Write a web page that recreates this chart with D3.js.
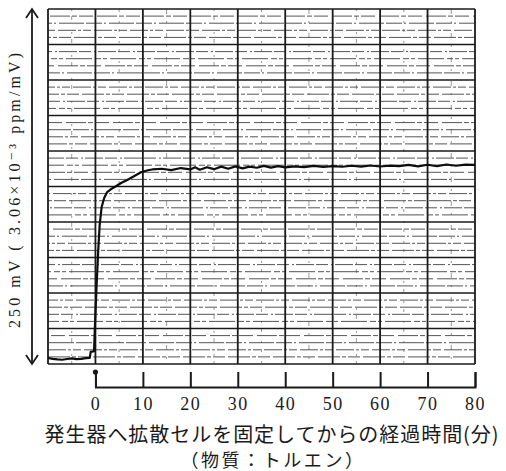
<!DOCTYPE html>
<html>
<head>
<meta charset="utf-8">
<script src="https://cdn.jsdelivr.net/npm/d3@7"></script>
<style>
  html, body { margin: 0; padding: 0; background: #fff; }
  svg { display: block; }
</style>
</head>
<body>
<svg id="chart" width="506" height="471"></svg>
<script>
// Recorder trace: elapsed time (min) after fixing the diffusion cell to the generator
const timeMin = [
  -10, -9, -8, -7, -6, -5, -4, -3, -2, -1.2, -1.0, -0.3,
  -0.06, 0.25, 0.57, 0.89, 1.31, 1.84, 2.47, 3.3, 4.4, 5.4, 6.7, 8.2, 9.7, 11.3,
  12, 14, 16, 18, 20, 21, 22, 23.5, 25, 26.5, 28, 29.5, 31, 32.5, 34, 35.5, 37, 38.5,
  40, 42, 44, 46, 48, 50, 52, 54, 56, 58, 60, 62, 64, 66, 68, 70, 72, 74, 76, 78, 80
];
// Detector output (mV), full scale 250 mV
const signalMV = [
  4.2, 3.6, 3.2, 3.0, 3.5, 3.9, 3.4, 3.6, 4.1, 4.3, 8.5, 9.0,
  31, 55.6, 78.9, 97.9, 110.6, 116.9, 121.1, 123.2, 125.4, 127.5, 129.6, 132.4, 135.2, 136.6,
  137, 137.5, 136.5, 138, 137, 138.5, 136.8, 138.6, 137.2, 139, 137.5, 139.2, 137.8, 139, 138.2, 139.5, 138.3, 139.4,
  138.5, 139.2, 138.6, 139.5, 138.8, 139.4, 138.9, 139.6, 139, 139.8, 139.1, 139.7, 139.3, 140.2, 139.2, 140.3, 139.4, 140.5, 139.6, 140.4, 140.2
];
const xTicks = [0, 10, 20, 30, 40, 50, 60, 70, 80];
const yLabel = "250 mV ( 3.06×10⁻³ ppm/mV)";
const titleLine1 = "発生器へ拡散セルを固定してからの経過時間(分)";
const titleLine2 = "（物質：トルエン）";

const svg = d3.select("#chart");
const ink = "#1a1a1a";

// Chart paper spans -10..80 min and 0..250 mV
const x = d3.scaleLinear().domain([-10, 80]).range([48, 475]);
const y = d3.scaleLinear().domain([0, 250]).range([364, 9]);

const grid = svg.append("g");

// Minor horizontal rulings every 5 mV (broken, like recorder paper)
const dashes = ["22,2,4,2,12,3", "8,3,18,2,3,2", "16,2,2,3,25,2", "5,2,14,4,20,2", "26,3,6,2,4,3", "12,3,2,2,18,2"];
const minorY = d3.range(5, 250, 5).filter(v => v % 25 !== 0);
grid.selectAll("line.minor-y").data(minorY).join("line")
  .attr("x1", x(-10)).attr("x2", x(80))
  .attr("y1", d => y(d)).attr("y2", d => y(d))
  .attr("stroke", "#2a2a2a").attr("stroke-width", 1)
  .attr("stroke-opacity", 0.8)
  .attr("stroke-dasharray", (d, i) => dashes[i % dashes.length])
  .attr("stroke-dashoffset", (d, i) => (i * 11) % 29);

// Minor vertical rulings every 5 min
const minorX = d3.range(-5, 80, 10);
grid.selectAll("line.minor-x").data(minorX).join("line")
  .attr("x1", d => x(d)).attr("x2", d => x(d))
  .attr("y1", y(250)).attr("y2", y(0))
  .attr("stroke", "#444").attr("stroke-width", 1)
  .attr("stroke-opacity", 0.55)
  .attr("stroke-dasharray", (d, i) => ["2,5,4,12", "3,9,2,6", "5,7,2,10"][i % 3]);

// Major rulings
grid.selectAll("line.major-y").data(d3.range(0, 251, 25)).join("line")
  .attr("x1", x(-10)).attr("x2", x(80))
  .attr("y1", d => y(d)).attr("y2", d => y(d))
  .attr("stroke", ink).attr("stroke-width", 1.6);
grid.selectAll("line.major-x").data(d3.range(-10, 81, 10)).join("line")
  .attr("x1", d => x(d)).attr("x2", d => x(d))
  .attr("y1", y(250)).attr("y2", y(0))
  .attr("stroke", ink).attr("stroke-width", 1.8);

// Recorder pen trace
const trace = d3.line()
  .x((d, i) => x(timeMin[i]))
  .y(d => y(d));
svg.append("path")
  .datum(signalMV)
  .attr("d", trace)
  .attr("fill", "none")
  .attr("stroke", "#0d0d0d")
  .attr("stroke-width", 2.2)
  .attr("stroke-linejoin", "round");

// Vertical full-scale arrow (both ends)
const ax = 32;
const arrow = svg.append("g").attr("stroke", ink).attr("fill", "none").attr("stroke-width", 1.8);
arrow.append("line").attr("x1", ax).attr("x2", ax).attr("y1", y(250)).attr("y2", y(0));
arrow.append("path").attr("d", `M${ax - 6},${y(250) + 9}L${ax},${y(250)}L${ax + 6},${y(250) + 9}`);
arrow.append("path").attr("d", `M${ax - 6},${y(0) - 9}L${ax},${y(0)}L${ax + 6},${y(0) - 9}`);

// Stretch a text element's letter spacing so its width equals `target`
function fitWidth(sel, target) {
  sel.attr("letter-spacing", 0);
  const n = sel.text().length;
  const w = sel.node().getComputedTextLength();
  sel.attr("letter-spacing", ((target - w) / n).toFixed(2));
}

// Scale label along the arrow
svg.append("text")
  .attr("transform", "translate(14,189) rotate(-90)")
  .attr("text-anchor", "middle")
  .attr("dominant-baseline", "central")
  .attr("font-family", "'Liberation Serif', 'DejaVu Serif', serif")
  .attr("font-size", 16)
  .attr("letter-spacing", 3.1)
  .attr("fill", ink)
  .text(yLabel);

// Time axis below the chart: bracket with upward ticks
const xAxisScale = d3.scaleLinear().domain([0, 80]).range([x(0), x(80)]);
const axisG = svg.append("g")
  .attr("transform", "translate(0,387)")
  .call(d3.axisBottom(xAxisScale)
    .tickValues(xTicks)
    .tickSizeInner(-15)
    .tickSizeOuter(-15)
    .tickPadding(10)
    .tickFormat(d3.format("d")));
axisG.select(".domain").attr("stroke", ink).attr("stroke-width", 2);
axisG.selectAll(".tick line").attr("stroke", ink).attr("stroke-width", 2);
axisG.selectAll(".tick text")
  .attr("fill", ink)
  .attr("font-family", "'Liberation Serif', 'DejaVu Serif', serif")
  .attr("font-size", 18)
  .attr("letter-spacing", 1.5);
axisG.append("circle")
  .attr("cx", xAxisScale(0)).attr("cy", -15).attr("r", 2.6).attr("fill", ink);

// Caption
const t1 = svg.append("text")
  .attr("x", 272).attr("y", 442)
  .attr("text-anchor", "middle")
  .attr("font-family", "'Noto Sans CJK JP', 'Liberation Serif', serif")
  .attr("font-size", 20)
  .attr("fill", ink)
  .text(titleLine1);
fitWidth(t1, 455);

const t2 = svg.append("text")
  .attr("x", 273).attr("y", 467)
  .attr("text-anchor", "middle")
  .attr("font-family", "'Noto Sans CJK JP', 'Liberation Serif', serif")
  .attr("font-size", 18)
  .attr("fill", ink)
  .text(titleLine2);
fitWidth(t2, 185);
</script>
</body>
</html>
